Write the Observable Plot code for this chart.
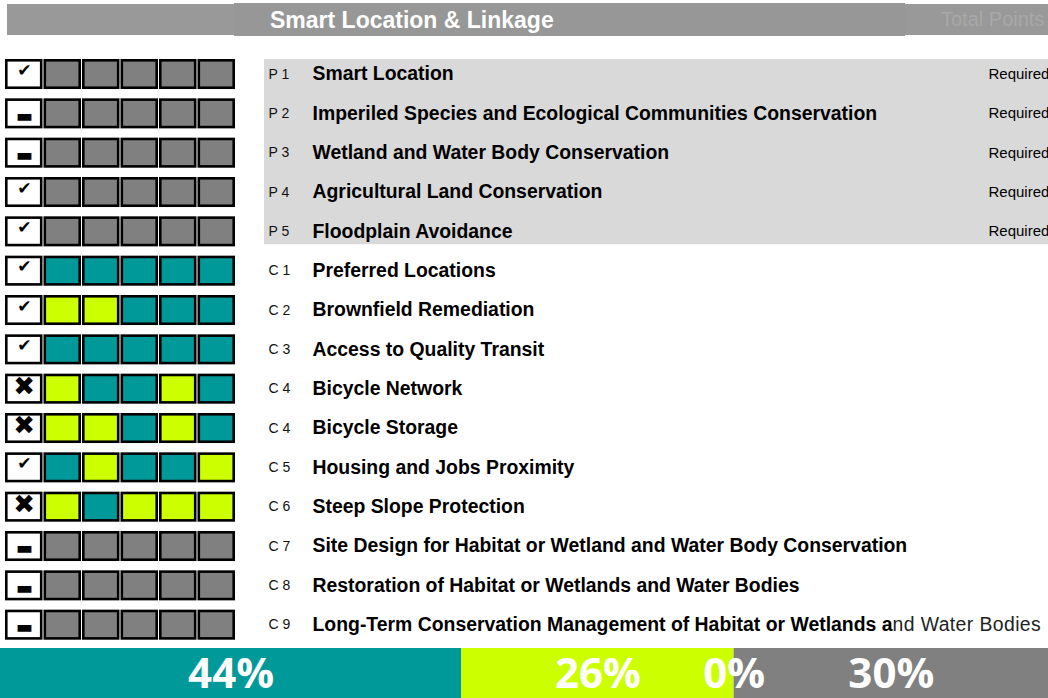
<!DOCTYPE html>
<html>
<head>
<meta charset="utf-8">
<script src="https://cdn.jsdelivr.net/npm/d3@7"></script>
<script src="https://cdn.jsdelivr.net/npm/@observablehq/plot@0.6"></script>
<style>
  html, body { margin: 0; padding: 0; background: #fff; }
  #wrap { position: relative; width: 1048px; height: 698px; overflow: hidden; font-family: "Liberation Sans", Arial, sans-serif; }
  .hdr-outer { position: absolute; left: 7px; top: 4px; width: 1041px; height: 31px; background: #999999; }
  .hdr-mid { position: absolute; left: 234px; top: 3px; width: 671px; height: 33px; background: #979797; }
  .hdr-title { position: absolute; left: 270px; top: 4px; height: 33px; line-height: 33px; color: #fff; font-weight: bold; font-size: 23px; white-space: nowrap; }
  .hdr-total { position: absolute; left: 941px; top: 3px; height: 33px; line-height: 33px; color: #a8a8a8; font-size: 20px; white-space: nowrap; }
  #rows { position: absolute; left: 0; top: 0; }
  #summary { position: absolute; left: 0; top: 648px; }
</style>
</head>
<body>
<div id="wrap">
  <div class="hdr-outer"></div>
  <div class="hdr-mid"></div>
  <div class="hdr-title">Smart Location &amp; Linkage</div>
  <div class="hdr-total">Total Points</div>
  <div id="rows"></div>
  <div id="summary"></div>
</div>
<script>
// ---- data ----
const codes = ["P 1","P 2","P 3","P 4","P 5","C 1","C 2","C 3","C 4","C 4","C 5","C 6","C 7","C 8","C 9"];
const names = [
  "Smart Location",
  "Imperiled Species and Ecological Communities Conservation",
  "Wetland and Water Body Conservation",
  "Agricultural Land Conservation",
  "Floodplain Avoidance",
  "Preferred Locations",
  "Brownfield Remediation",
  "Access to Quality Transit",
  "Bicycle Network",
  "Bicycle Storage",
  "Housing and Jobs Proximity",
  "Steep Slope Protection",
  "Site Design for Habitat or Wetland and Water Body Conservation",
  "Restoration of Habitat or Wetlands and Water Bodies",
  "Long-Term Conservation Management of Habitat or Wetlands and Water Bodies"
];
const notes = ["Required","Required","Required","Required","Required","","","","","","","","","",""];
const statuses = ["check","dash","dash","check","check","check","check","check","cross","cross","check","cross","dash","dash","dash"];
// per-row five cells: n = not applicable (grey), a = achieved (teal), p = possible (lime)
const cellStates = [
  ["n","n","n","n","n"],
  ["n","n","n","n","n"],
  ["n","n","n","n","n"],
  ["n","n","n","n","n"],
  ["n","n","n","n","n"],
  ["a","a","a","a","a"],
  ["p","p","a","a","a"],
  ["a","a","a","a","a"],
  ["p","a","a","p","a"],
  ["p","p","a","p","a"],
  ["a","p","a","a","p"],
  ["p","a","p","p","p"],
  ["n","n","n","n","n"],
  ["n","n","n","n","n"],
  ["n","n","n","n","n"]
];
const summaryCategories = ["a","p","u","n"];
const summaryValues = [44, 26, 0, 30];
const summaryLabels = ["44%","26%","0%","30%"];

// ---- derived tables ----
const rowIdx = d3.range(codes.length);
const rows = rowIdx.map(i => ({row: i, code: codes[i], name: names[i], note: notes[i], status: statuses[i], prereq: codes[i].startsWith("P")}));
const cells = [];
rowIdx.forEach(i => {
  cells.push({row: i, col: 0, state: "s"});
  cellStates[i].forEach((s, j) => cells.push({row: i, col: j + 1, state: s}));
});
const summary = summaryCategories.map((c, i) => ({cat: c, value: summaryValues[i], label: summaryLabels[i]}));

const colorDomain = ["s","a","p","n","u"];
const colorRange = ["#ffffff","#009999","#ccff00","#808080","#ffc000"];
const font = "'Liberation Sans', Arial, sans-serif";

const prereqRows = rows.filter(d => d.prereq);
const sym = {check: "\u2714", dash: "\u25AC", cross: "\u2716"};

const rowsPlot = Plot.plot({
  width: 1048,
  height: 648,
  margin: 0,
  style: {fontFamily: font, background: "transparent", overflow: "visible"},
  x: {type: "band", domain: d3.range(6), range: [4.5, 235.5], padding: 0, round: false, axis: null},
  y: {type: "band", domain: rowIdx, range: [55, 645], padding: 0, round: false, axis: null},
  color: {domain: colorDomain, range: colorRange},
  marks: [
    // grey background for prerequisites
    Plot.cell(prereqRows.slice(0, 1), {y: "row", fill: "#d9d9d9", insetLeft: 264, insetTop: 4, insetBottom: -1}),
    Plot.cell(prereqRows.slice(1, -1), {y: "row", fill: "#d9d9d9", insetLeft: 264, insetTop: -1, insetBottom: -1}),
    Plot.cell(prereqRows.slice(-1), {y: "row", fill: "#d9d9d9", insetLeft: 264, insetTop: -1, insetBottom: 7.5}),
    // status + credit boxes
    Plot.cell(cells, {x: "col", y: "row", fill: "state", stroke: "#000", strokeWidth: 2.6,
      insetLeft: 1.8, insetRight: 1.8, insetTop: 5.3, insetBottom: 6.6}),
    // symbols
    Plot.text(rows.filter(d => d.status === "check"), {x: () => 0, y: "row", text: d => sym[d.status],
      fontSize: 17, fill: "#000", dy: -5, fontFamily: "DejaVu Sans"}),
    Plot.text(rows.filter(d => d.status === "dash"), {x: () => 0, y: "row", text: d => sym[d.status],
      fontSize: 18, fill: "#000", dy: 1.5, fontFamily: "DejaVu Sans"}),
    Plot.text(rows.filter(d => d.status === "cross"), {x: () => 0, y: "row", text: d => sym[d.status],
      fontSize: 26, fill: "#000", dy: -3, fontFamily: "DejaVu Sans"}),
    // labels
    Plot.text(rows, {y: "row", text: "code", frameAnchor: "left", dx: 268, textAnchor: "start",
      fontSize: 14, fill: "#111", dy: -1}),
    Plot.text(rows, {y: "row", text: "name", frameAnchor: "left", dx: 312, textAnchor: "start",
      fontSize: 19.4, fontWeight: "bold", fill: "#000", dy: -1}),
    Plot.text(rows.filter(d => d.note), {y: "row", text: "note", frameAnchor: "left", dx: 988, textAnchor: "start",
      fontSize: 15, fill: "#000", dy: -1})
  ]
});
document.getElementById("rows").appendChild(rowsPlot);

// Excel-like overflow of the last label: tail drawn in regular weight
const lastName = names[names.length - 1];
rowsPlot.querySelectorAll("text").forEach(t => {
  if (t.textContent === lastName) {
    const cut = lastName.indexOf(" and Water") + 2;
    const head = lastName.slice(0, cut), tail = lastName.slice(cut);
    t.textContent = "";
    const ns = "http://www.w3.org/2000/svg";
    const a = document.createElementNS(ns, "tspan"); a.textContent = head;
    const b = document.createElementNS(ns, "tspan"); b.textContent = tail;
    b.setAttribute("font-weight", "normal"); b.setAttribute("fill", "#222");
    b.setAttribute("letter-spacing", "0.4");
    t.appendChild(a); t.appendChild(b);
  }
});

const summaryPlot = Plot.plot({
  width: 1048,
  height: 50,
  margin: 0,
  style: {fontFamily: "'Open Sans', sans-serif", background: "transparent", overflow: "visible"},
  x: {domain: [0, 100], range: [0, 1048], axis: null},
  color: {domain: colorDomain, range: colorRange},
  marks: [
    Plot.barX(summary, Plot.stackX({x: "value", fill: "cat", order: null})),
    Plot.text(summary, Plot.stackX({x: "value", text: "label", order: null, fill: "#fff",
      fontSize: 42, fontWeight: "bold", dy: 1.5}))
  ]
});
document.getElementById("summary").appendChild(summaryPlot);
</script>
</body>
</html>
